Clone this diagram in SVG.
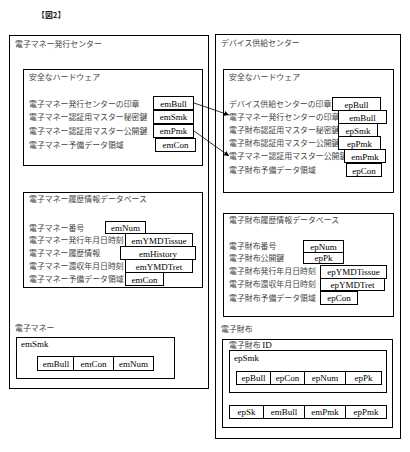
<svg xmlns="http://www.w3.org/2000/svg" width="410" height="452" viewBox="0 0 410 452">
<style>
.b{fill:none;stroke:#000;stroke-width:1}
.c{fill:#fff;stroke:#000;stroke-width:1}
.j{font-family:"Noto Sans CJK JP","Noto Sans CJK SC",sans-serif;font-size:7.9px;fill:#444}
.l{font-family:"Liberation Serif",serif;font-size:9px;fill:#000;text-anchor:middle}
.ll{font-family:"Liberation Serif",serif;font-size:9px;fill:#000}
</style>
<defs>
<marker id="ah" markerWidth="6" markerHeight="6" refX="5" refY="3" orient="auto" markerUnits="userSpaceOnUse">
<path d="M0,0.5 L5,3 L0,5.5 Z" fill="#000"/>
</marker>
</defs>
<rect width="410" height="452" fill="#fff"/>
<text class="j" x="37" y="18" style="font-weight:bold;fill:#222">【図2】</text>

<g id="issuer">
<rect class="b" x="9.5" y="35.5" width="199" height="353"/>
<text class="j" x="15" y="47">電子マネー発行センター</text>
</g>

<g id="issuer-hw">
<rect class="b" x="23.5" y="69.5" width="179" height="96"/>
<text class="j" x="29" y="80">安全なハードウェア</text>
<text class="j" x="29" y="107">電子マネー発行センターの印章</text>
<text class="j" x="29" y="120">電子マネー認証用マスター秘密鍵</text>
<text class="j" x="29" y="134">電子マネー認証用マスター公開鍵</text>
<text class="j" x="29" y="148">電子マネー予備データ領域</text>
<rect class="c" x="153.5" y="96.5" width="40" height="13"/><text class="l" x="173.5" y="106.5">emBull</text>
<rect class="c" x="153.5" y="110.5" width="40" height="13"/><text class="l" x="173.5" y="120">emSmk</text>
<rect class="c" x="153.5" y="124.5" width="40" height="13"/><text class="l" x="173.5" y="134">emPmk</text>
<rect class="c" x="155.5" y="138.5" width="40" height="13"/><text class="l" x="175.5" y="148">emCon</text>
</g>

<g id="issuer-db">
<rect class="b" x="23.5" y="192.5" width="179" height="95"/>
<text class="j" x="29" y="202">電子マネー履歴情報データベース</text>
<text class="j" x="29" y="231">電子マネー番号</text>
<text class="j" x="29" y="243">電子マネー発行年月日時刻</text>
<text class="j" x="29" y="256">電子マネー履歴情報</text>
<text class="j" x="29" y="269">電子マネー還収年月日時刻</text>
<text class="j" x="29" y="282">電子マネー予備データ領域</text>
<rect class="c" x="105.5" y="221.5" width="40" height="12"/><text class="l" x="125.5" y="231">emNum</text>
<rect class="c" x="125.5" y="233.5" width="67" height="13"/><text class="l" x="159" y="243.5">emYMDTissue</text>
<rect class="c" x="120.5" y="246.5" width="75" height="13"/><text class="l" x="158" y="256.5">emHistory</text>
<rect class="c" x="125.5" y="259.5" width="67" height="13"/><text class="l" x="159" y="269.5">emYMDTret</text>
<rect class="c" x="125.5" y="272.5" width="38" height="13"/><text class="l" x="144.5" y="282.5">emCon</text>
</g>

<g id="emoney">
<text class="j" x="15" y="331">電子マネー</text>
<rect class="b" x="16.5" y="337.5" width="158" height="41"/>
<text class="ll" x="21" y="347">emSmk</text>
<rect class="b" x="37.5" y="356.5" width="116" height="14"/>
<line class="b" x1="73.5" y1="356.5" x2="73.5" y2="370.5"/>
<line class="b" x1="113.5" y1="356.5" x2="113.5" y2="370.5"/>
<text class="l" x="56" y="367">emBull</text>
<text class="l" x="93.5" y="367">emCon</text>
<text class="l" x="133.5" y="367">emNum</text>
</g>

<g id="supplier">
<rect class="b" x="215.5" y="34.5" width="185" height="404"/>
<text class="j" x="221" y="46">デバイス供給センター</text>
</g>

<g id="supplier-hw">
<rect class="b" x="223.5" y="69.5" width="170" height="123"/>
<text class="j" x="229" y="80">安全なハードウェア</text>
<text class="j" x="229" y="107">デバイス供給センターの印章</text>
<text class="j" x="229" y="120">電子マネー発行センターの印章</text>
<text class="j" x="229" y="133">電子財布認証用マスター秘密鍵</text>
<text class="j" x="229" y="146">電子財布認証用マスター公開鍵</text>
<text class="j" x="229" y="159">電子マネー認証用マスター公開鍵</text>
<text class="j" x="229" y="173">電子財布予備データ領域</text>
<rect class="c" x="332.5" y="97.5" width="48" height="13"/><text class="l" x="356.5" y="107.5">epBull</text>
<rect class="c" x="338.5" y="110.5" width="48" height="13"/><text class="l" x="362.5" y="120.5">emBull</text>
<rect class="c" x="338.5" y="123.5" width="39" height="13"/><text class="l" x="358" y="133.5">epSmk</text>
<rect class="c" x="338.5" y="136.5" width="42" height="13"/><text class="l" x="359.5" y="146.5">epPmk</text>
<rect class="c" x="344.5" y="149.5" width="41" height="13"/><text class="l" x="365" y="159.5">emPmk</text>
<rect class="c" x="346.5" y="163.5" width="35" height="13"/><text class="l" x="364" y="173.5">epCon</text>
</g>

<g id="supplier-db">
<rect class="b" x="223.5" y="213.5" width="170" height="103"/>
<text class="j" x="229" y="223">電子財布履歴情報データベース</text>
<text class="j" x="229" y="249">電子財布番号</text>
<text class="j" x="229" y="261">電子財布公開鍵</text>
<text class="j" x="229" y="274">電子財布発行年月日時刻</text>
<text class="j" x="229" y="287">電子財布還収年月日時刻</text>
<text class="j" x="229" y="301">電子財布予備データ領域</text>
<rect class="c" x="303.5" y="240.5" width="40" height="12"/><text class="l" x="323.5" y="249.5">epNum</text>
<rect class="c" x="303.5" y="252.5" width="40" height="11"/><text class="l" x="323.5" y="261">epPk</text>
<rect class="c" x="320.5" y="265.5" width="66" height="13"/><text class="l" x="353.5" y="275">epYMDTissue</text>
<rect class="c" x="320.5" y="278.5" width="64" height="12"/><text class="l" x="352.5" y="288">epYMDTret</text>
<rect class="c" x="320.5" y="291.5" width="37" height="13"/><text class="l" x="339" y="301">epCon</text>
</g>

<g id="wallet">
<text class="j" x="221" y="332">電子財布</text>
<rect class="b" x="222.5" y="339.5" width="170" height="88"/>
<text class="j" x="229" y="348">電子財布 <tspan style="font-family:'Liberation Serif',serif;font-size:9px;fill:#000">ID</tspan></text>
<rect class="b" x="229.5" y="350.5" width="157" height="42"/>
<text class="ll" x="234" y="361">epSmk</text>
<rect class="b" x="236.5" y="371.5" width="145" height="13"/>
<line class="b" x1="270.5" y1="371.5" x2="270.5" y2="384.5"/>
<line class="b" x1="304.5" y1="371.5" x2="304.5" y2="384.5"/>
<line class="b" x1="345.5" y1="371.5" x2="345.5" y2="384.5"/>
<text class="l" x="253.5" y="381">epBull</text>
<text class="l" x="287.5" y="381">epCon</text>
<text class="l" x="325" y="381">epNum</text>
<text class="l" x="363.5" y="381">epPk</text>
<rect class="b" x="229.5" y="405.5" width="157" height="13"/>
<line class="b" x1="263.5" y1="405.5" x2="263.5" y2="418.5"/>
<line class="b" x1="304.5" y1="405.5" x2="304.5" y2="418.5"/>
<line class="b" x1="345.5" y1="405.5" x2="345.5" y2="418.5"/>
<text class="l" x="246.5" y="415">epSk</text>
<text class="l" x="284" y="415">emBull</text>
<text class="l" x="325" y="415">emPmk</text>
<text class="l" x="366" y="415">epPmk</text>
</g>

<g id="connectors">
<line x1="194" y1="103" x2="229" y2="115" stroke="#000" stroke-width="0.8" marker-end="url(#ah)"/>
<line x1="194" y1="131" x2="229" y2="156" stroke="#000" stroke-width="0.8" marker-end="url(#ah)"/>
</g>
</svg>
